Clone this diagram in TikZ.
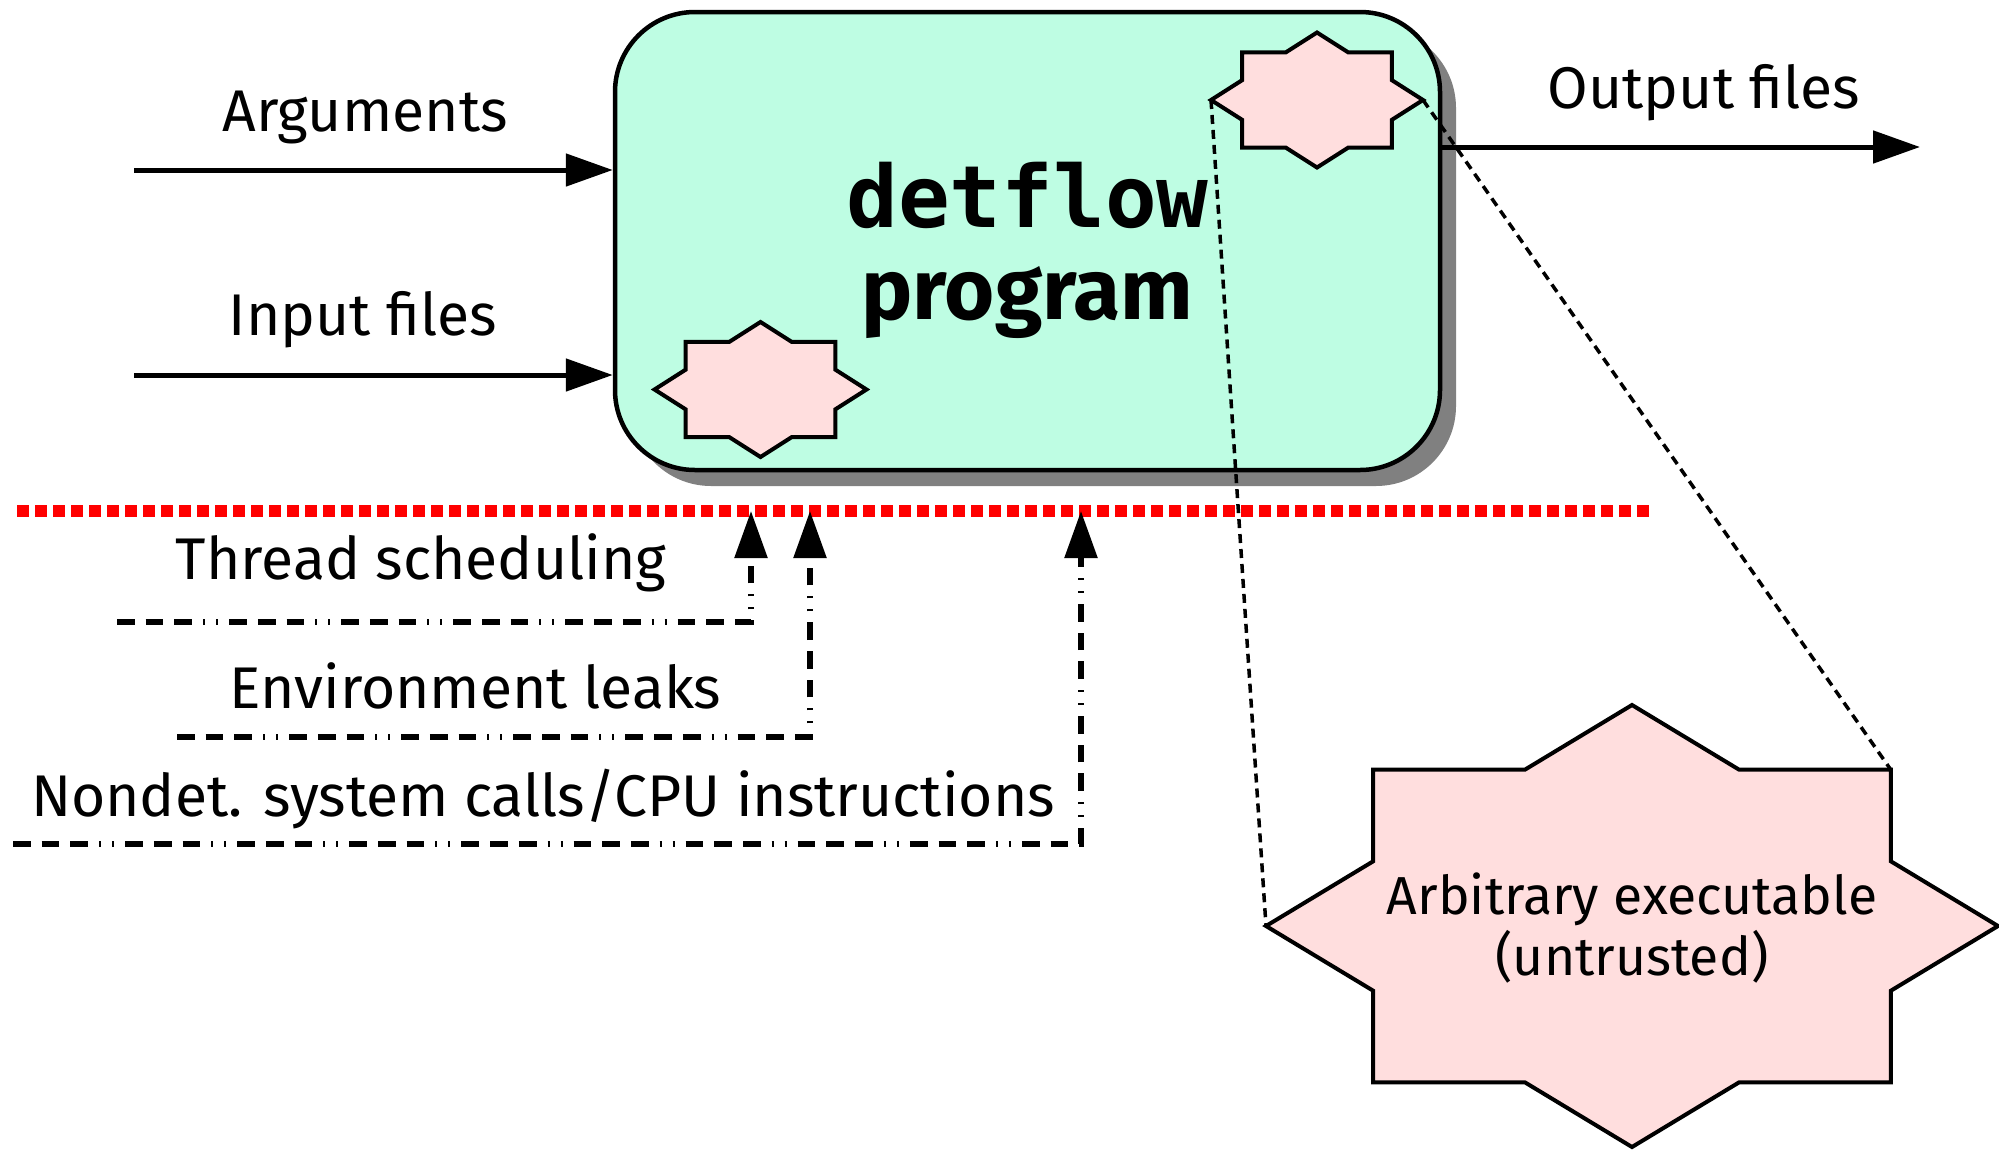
\documentclass[tikz,border=0pt]{standalone}
\usepackage{fontspec}
\setmainfont{Fira Sans}
\newfontfamily\codefont{DejaVu Sans Mono}
\usetikzlibrary{arrows.meta}

\definecolor{boxmint}{RGB}{190,253,227}
\definecolor{starpink}{RGB}{255,222,222}
\definecolor{shadowgray}{RGB}{128,128,128}
\definecolor{barrierred}{RGB}{255,0,0}

\tikzset{
  label text/.style={font=\fontsize{58.8}{70}\selectfont, anchor=base, inner sep=0pt},
  title text/.style={font=\fontsize{86}{92}\selectfont\bfseries, anchor=base, inner sep=0pt},
  flow/.style={line width=5pt, -{Triangle[length=47pt,width=32pt]}},
  leak/.style={line width=5.5pt,
    dash pattern=on 17.7pt off 11pt on 17.7pt off 11pt on 17.7pt off 11pt on 2pt off 11pt on 2pt off 11pt,
    -{Triangle[length=47pt,width=32pt]}},
  barrier line/.style={line width=11.5pt, barrierred, dash pattern=on 12pt off 6pt},
  zoom line/.style={line width=3.5pt, dash pattern=on 9pt off 6pt},
  star outline/.style={draw, line width=4pt, fill=starpink, line join=miter},
}

% eight-pointed star: union of a diamond (half sizes #3 x #4) and a rectangle
\newcommand\octostar[4]{%
  \begin{scope}[shift={#2}, xscale=#3, yscale=#4]
    \draw[star outline] (0,-1) -- (0.2929,-0.7071) -- (0.7071,-0.7071) -- (0.7071,-0.2929)
      -- (1,0) -- (0.7071,0.2929) -- (0.7071,0.7071) -- (0.2929,0.7071)
      -- (0,1) -- (-0.2929,0.7071) -- (-0.7071,0.7071) -- (-0.7071,0.2929)
      -- (-1,0) -- (-0.7071,-0.2929) -- (-0.7071,-0.7071) -- (-0.2929,-0.7071) -- cycle;
    \coordinate (#1-c) at (0,0);
    \coordinate (#1-w) at (-1,0);
    \coordinate (#1-e) at (1,0);
    \coordinate (#1-ne) at (0.7071,-0.7071);
  \end{scope}}

\begin{document}
\begin{tikzpicture}[x=1pt,y=-1pt]
\useasboundingbox (0,0) rectangle (1999,1149);

% program box with its shadow
\fill[shadowgray, rounded corners=80pt] (631,28) rectangle (1456,486);
\node[draw, line width=4.5pt, fill=boxmint, rounded corners=80pt,
      minimum width=825pt, minimum height=458pt, inner sep=0pt]
  (prog) at (1027.5,241) {};
\node[title text] (title1) at (1027.5,227) {\codefont detflow};
\node[title text] (title2) at (1027.5,319) {program};

% small executables inside the box
\octostar{exA}{(1317,100)}{106}{67.5}
\octostar{exB}{(760.5,389.5)}{106}{67.5}

% inputs and outputs
\coordinate (argstart) at (134,170);
\coordinate (inpstart) at (134,375);
\coordinate (outend) at (1920,147);
\draw[flow] (argstart) -- (argstart -| prog.west);
\draw[flow] (inpstart) -- (inpstart -| prog.west);
\draw[flow] (prog.east |- outend) -- (outend);
\node[label text] (args) at (365,131) {Arguments};
\node[label text] (inputs) at (363,335) {Input files};
\node[label text] (outputs) at (1704,108) {Output files};

% isolation barrier
\coordinate (bar-l) at (17,511);
\coordinate (bar-r) at (1651,511);
\draw[barrier line] (bar-l) -- (bar-r);

% blocked sources of nondeterminism
\coordinate (ts-start) at (117,622);
\coordinate (ts-end) at (751,511);
\coordinate (el-start) at (177,737);
\coordinate (el-end) at (810,511);
\coordinate (nd-start) at (13,844);
\coordinate (nd-end) at (1081,511);
\draw[leak] (ts-start) -- (ts-start -| ts-end) -- (ts-end);
\draw[leak] (el-start) -- (el-start -| el-end) -- (el-end);
\draw[leak] (nd-start) -- (nd-start -| nd-end) -- (nd-end);
\node[label text] (thread) at (421,579) {Thread scheduling};
\node[label text] (env) at (475.5,708) {Environment leaks};
\node[label text] (nondet) at (543,816) {Nondet. system calls/CPU instructions};

% magnified executable
\octostar{big}{(1632,926)}{366}{221}
\node[font=\fontsize{53.5}{61}\selectfont, align=center, inner sep=0pt] (bigtext) at (1632,928)
  {Arbitrary executable\\(untrusted)};

% zoom guides
\draw[zoom line] (exA-w) -- (big-w);
\draw[zoom line] (exA-e) -- (big-ne);
\end{tikzpicture}
\end{document}
